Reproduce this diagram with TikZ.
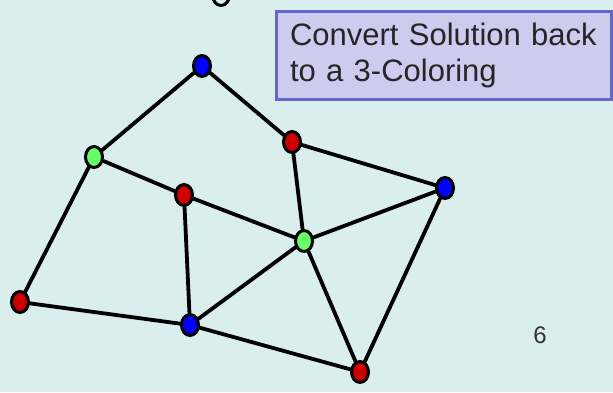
\documentclass[tikz,border=0pt]{standalone}
\usepackage{fontspec}
\setmainfont{Liberation Sans}
\usetikzlibrary{shapes.geometric}

\definecolor{bgcol}{RGB}{218,238,238}
\definecolor{boxfill}{RGB}{204,204,238}
\definecolor{boxline}{RGB}{102,102,204}
\definecolor{vred}{RGB}{204,0,0}
\definecolor{vblue}{RGB}{0,0,255}
\definecolor{vgreen}{RGB}{102,255,102}

\begin{document}
\begin{tikzpicture}[x=1pt, y=-1pt,
    vtx/.style={ellipse, draw=black, line width=3pt, inner sep=0pt,
        minimum width=17pt, minimum height=21pt},
    edge/.style={line width=3.8pt, line cap=round},
    msgbox/.style={draw=boxline, fill=boxfill, line width=3pt, anchor=north west,
        minimum width=335pt, minimum height=88pt, inner xsep=12pt, text width=308pt,
        align=left, font=\fontsize{31}{36}\selectfont, text=black!85}]
    \fill[bgcol] (0,0) rectangle (613,392);
    \useasboundingbox (0,0) rectangle (613,392);

    % vertices
    \node[vtx] (cut) at (221,-5) {};
    \node[vtx, fill=vblue]  (B1) at (202,66) {};
    \node[vtx, fill=vgreen] (G1) at (94,157) {};
    \node[vtx, fill=vred]   (R1) at (292,142) {};
    \node[vtx, fill=vred]   (R2) at (184,195) {};
    \node[vtx, fill=vblue]  (B2) at (445,188) {};
    \node[vtx, fill=vgreen] (G2) at (304,241) {};
    \node[vtx, fill=vred]   (R3) at (20,302) {};
    \node[vtx, fill=vblue]  (B3) at (190,325) {};
    \node[vtx, fill=vred]   (R4) at (360,372) {};

    % edges
    \draw[edge] (B1) -- (G1);
    \draw[edge] (B1) -- (R1);
    \draw[edge] (G1) -- (R2);
    \draw[edge] (G1) -- (R3);
    \draw[edge] (R1) -- (B2);
    \draw[edge] (R1) -- (G2);
    \draw[edge] (R2) -- (B3);
    \draw[edge] (R2) -- (G2);
    \draw[edge] (B2) -- (G2);
    \draw[edge] (B2) -- (R4);
    \draw[edge] (G2) -- (B3);
    \draw[edge] (G2) -- (R4);
    \draw[edge] (R3) -- (B3);
    \draw[edge] (B3) -- (R4);

    \node[msgbox] (msg) at (275,10) {Convert Solution back\\to a 3-Coloring};
    \node[font=\fontsize{24}{28}\selectfont, text=black!80] (pnum) at (540,335) {6};
\end{tikzpicture}
\end{document}
